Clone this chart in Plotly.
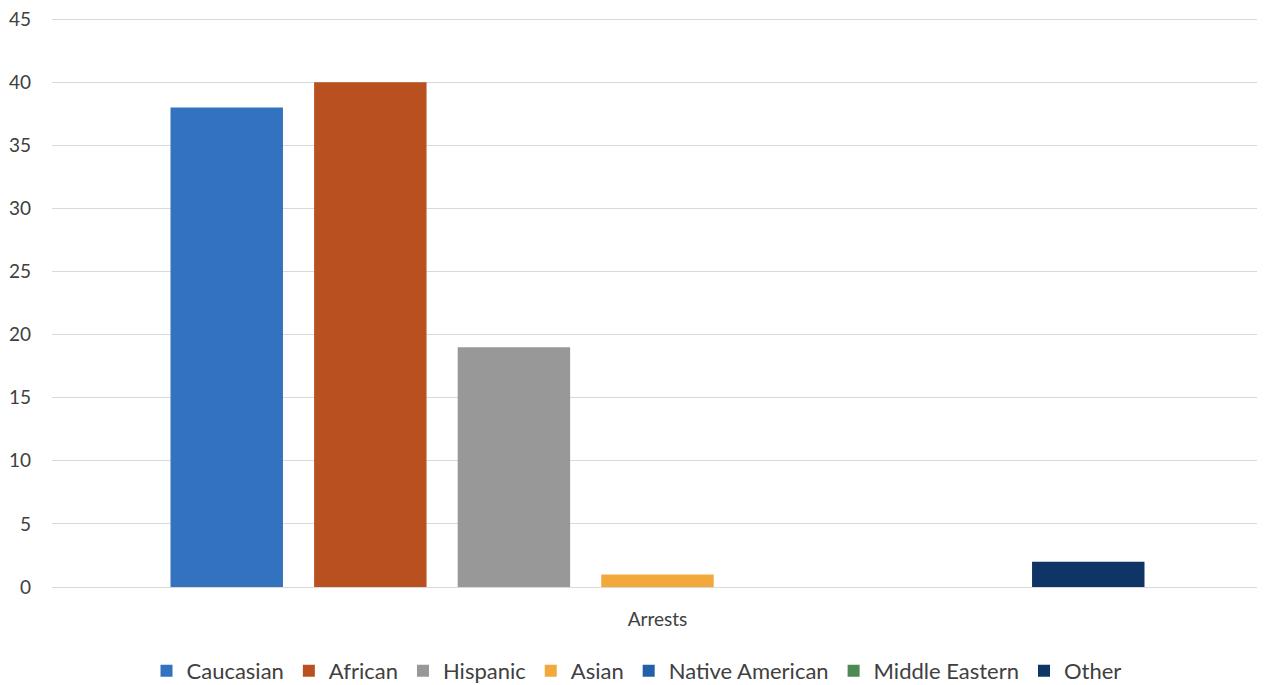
import plotly.graph_objects as go

categories = ["Arrests"]
series_names = ["Caucasian", "African", "Hispanic", "Asian", "Native American", "Middle Eastern", "Other"]
series_values = [38, 40, 19, 1, 0, 0, 2]
series_colors = ["#3372BE", "#B8501F", "#989898", "#F2A93B", "#2460A8", "#4E8A55", "#0E3566"]
y_ticks = [0, 5, 10, 15, 20, 25, 30, 35, 40, 45]

fig = go.Figure()
for name, val, col in zip(series_names, series_values, series_colors):
    fig.add_trace(go.Bar(x=categories, y=[val], name=name, marker=dict(color=col, line=dict(width=0))))

font_family = "Lato, Open Sans, sans-serif"
fig.update_layout(
    width=1257, height=677,
    margin=dict(l=44, r=2, t=10, b=98),
    paper_bgcolor="white", plot_bgcolor="white",
    barmode="group", bargap=0.17, bargroupgap=0.217,
    font=dict(family=font_family, size=19, color="#404040"),
    showlegend=True,
    legend=dict(orientation="h", x=0.5, xanchor="center", xref="container",
                y=0.0207, yanchor="middle", yref="container",
                font=dict(size=22, color="#404040"), itemwidth=30, traceorder="normal"),
    xaxis=dict(showgrid=False, showline=False, ticks="outside", ticklen=15, tickcolor="rgba(0,0,0,0)",
               tickfont=dict(size=19, color="#404040"), automargin=False),
    yaxis=dict(range=[0, 45.1], tickvals=y_ticks, showgrid=True, gridcolor="#D9D9D9", gridwidth=1.3,
               zeroline=True, zerolinecolor="#D9D9D9", zerolinewidth=1.3, showline=False, automargin=False,
               ticklabeloverflow="allow", ticklabelstandoff=20, tickfont=dict(size=19, color="#404040")),
)

fig.write_html("out.html")
